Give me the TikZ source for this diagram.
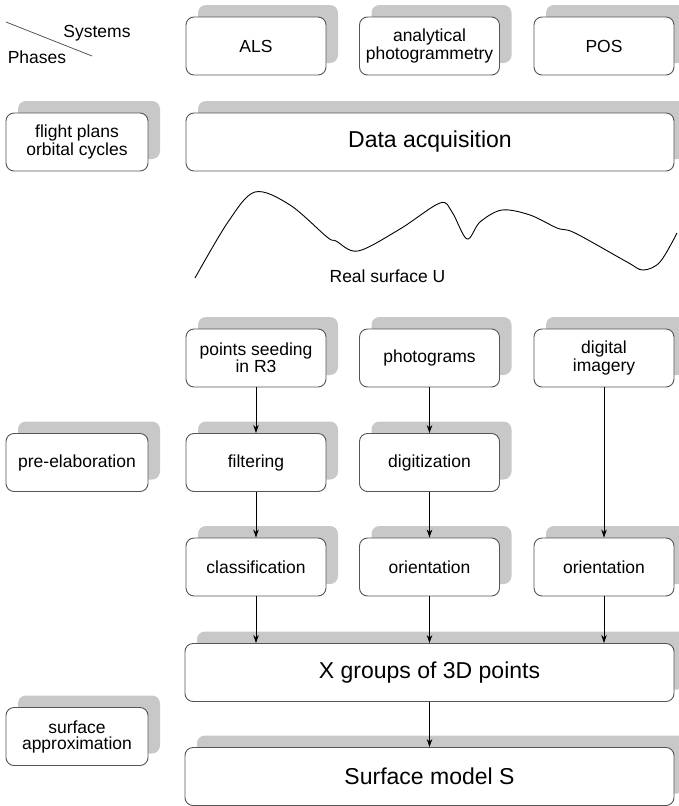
\documentclass[tikz,border=0pt]{standalone}
\usepackage{fontspec}
\setmainfont{Liberation Sans}
\usetikzlibrary{positioning, arrows.meta, shadows}
\definecolor{shadegray}{RGB}{200, 200, 200}
\definecolor{edgegray}{RGB}{85, 85, 85}
\tikzset{
  box/.style={
    draw=edgegray, line width=0.9pt, fill=white, rounded corners=8pt,
    general shadow={fill=shadegray, shadow xshift=12pt, shadow yshift=12pt},
    minimum width=140pt,
    minimum height=58pt,
    inner sep=0pt,
    font=\fontsize{17.5}{16}\selectfont,
    align=center
  },
  widebox/.style={
    box,
    minimum width=489pt,
    font=\fontsize{23}{26}\selectfont
  },
  flow/.style={-{Stealth[length=8pt, width=5.5pt]}, line width=0.8pt, black}
}

\begin{document}
\begin{tikzpicture}[x=1pt, y=1pt]
\useasboundingbox (0, 0) rectangle (678, -806);

% Header corner
\draw[line width=0.8pt, edgegray] (6, -22) coordinate (diagA) -- (92, -56) coordinate (diagB);
\node[font=\fontsize{17.5}{16}\selectfont] (systems) at (97, -33) {Systems};
\node[font=\fontsize{17.5}{16}\selectfont] (phases) at (37, -57) {Phases};

% Systems
\node[box] (als) at (256, -46) {ALS};
\node[box] (anph) at (429.5, -46) {analytical\\photogrammetry};
\node[box] (pos) at (604, -46) {POS};

% Data acquisition row
\node[box, minimum width=142pt] (flight) at (77, -142) {flight plans\\orbital cycles};
\node[widebox, minimum width=488pt] (acq) at (430, -142) {Data acquisition};

% Real surface
\draw[line width=0.9pt] plot[smooth, tension=0.55] coordinates {
  (195, -278) (228, -222) (255, -192) (290, -205) (327, -237) (336, -241)
  (358, -251) (400, -229) (440, -203) (452, -212) (467, -239) (480, -222)
  (502, -210) (530, -215) (557, -228) (575, -233) (627, -262) (643, -270)
  (660, -262) (677, -233)};
\node[font=\fontsize{17.5}{16}\selectfont] (surfU) at (387.5, -276) {Real surface U};

% Raw data
\node[box] (seed) at (256, -358) {points seeding\\in R3};
\node[box] (photo) at (429.5, -358) {photograms};
\node[box] (digimg) at (604, -358) {digital\\imagery};

% Pre-elaboration
\node[box, minimum width=142pt] (preel) at (77, -462.5) {pre-elaboration};
\node[box] (filter) at (256, -462.5) {filtering};
\node[box] (digit) at (429.5, -462.5) {digitization};

\node[box] (classif) at (256, -567) {classification};
\node[box] (orient) at (429.5, -567) {orientation};
\node[box] (orientb) at (604, -567) {orientation};

% Surface approximation
\node[widebox] (xgroups) at (429.5, -672.5) {X groups of 3D points};
\node[box, minimum width=142pt] (approx) at (77, -736.5) {surface\\approximation};
\node[widebox] (model) at (429.5, -776.5) {Surface model S};

% Connectors
\draw[flow] (seed) -- (filter);
\draw[flow] (photo) -- (digit);
\draw[flow] (filter) -- (classif);
\draw[flow] (digit) -- (orient);
\draw[flow] (digimg) -- (orientb);
\draw[flow] (classif) -- (classif.south |- xgroups.north);
\draw[flow] (orient) -- (orient.south |- xgroups.north);
\draw[flow] (orientb) -- (orientb.south |- xgroups.north);
\draw[flow] (xgroups) -- (model);

\end{tikzpicture}
\end{document}
